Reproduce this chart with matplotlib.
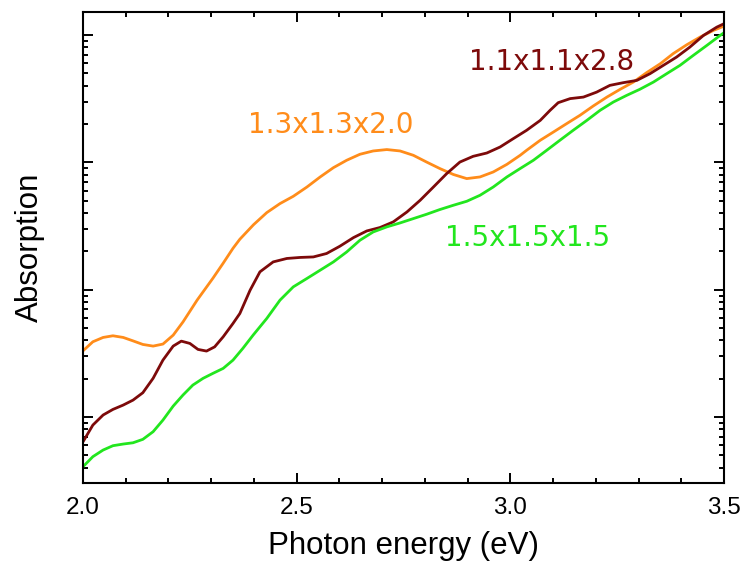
import numpy as np
import matplotlib
matplotlib.use("Agg")
import matplotlib.pyplot as plt
from matplotlib.ticker import MultipleLocator, LogLocator, NullFormatter, FormatStrFormatter

# Photon energy (eV) and log10(absorption)
E_o = [2.000, 2.023, 2.047, 2.070, 2.094, 2.117, 2.140, 2.164, 2.187, 2.211, 2.234, 2.267,
       2.304, 2.328, 2.351, 2.367, 2.399, 2.430, 2.461, 2.492, 2.524, 2.555, 2.586, 2.617,
       2.648, 2.679, 2.711, 2.742, 2.773, 2.804, 2.835, 2.867, 2.898, 2.929, 2.960, 2.992,
       3.023, 3.038, 3.070, 3.101, 3.132, 3.163, 3.194, 3.226, 3.257, 3.288, 3.319, 3.351,
       3.381, 3.413, 3.444, 3.475, 3.500]
L_o = [0.520, 0.591, 0.625, 0.638, 0.625, 0.598, 0.570, 0.557, 0.573, 0.643, 0.747, 0.918,
       1.090, 1.208, 1.325, 1.396, 1.510, 1.605, 1.676, 1.733, 1.806, 1.885, 1.958, 2.016,
       2.063, 2.089, 2.100, 2.089, 2.055, 2.002, 1.951, 1.904, 1.872, 1.885, 1.924, 1.984,
       2.055, 2.094, 2.173, 2.238, 2.304, 2.369, 2.442, 2.512, 2.573, 2.630, 2.704, 2.774,
       2.853, 2.923, 2.983, 3.035, 3.069]

E_r = [2.000, 2.023, 2.047, 2.070, 2.094, 2.117, 2.140, 2.164, 2.187, 2.211, 2.230, 2.250,
       2.269, 2.289, 2.308, 2.328, 2.351, 2.367, 2.391, 2.414, 2.445, 2.477, 2.508, 2.539,
       2.570, 2.601, 2.633, 2.664, 2.695, 2.726, 2.758, 2.789, 2.820, 2.851, 2.882, 2.913,
       2.945, 2.976, 3.007, 3.038, 3.070, 3.093, 3.112, 3.140, 3.171, 3.202, 3.233, 3.264,
       3.296, 3.327, 3.358, 3.389, 3.420, 3.452, 3.483, 3.500]
L_r = [-0.194, -0.063, 0.016, 0.060, 0.094, 0.133, 0.191, 0.304, 0.447, 0.557, 0.596, 0.578,
       0.531, 0.518, 0.551, 0.630, 0.735, 0.813, 0.996, 1.140, 1.218, 1.245, 1.253, 1.257,
       1.284, 1.341, 1.409, 1.461, 1.488, 1.532, 1.610, 1.702, 1.806, 1.911, 2.002, 2.047,
       2.073, 2.120, 2.186, 2.251, 2.329, 2.408, 2.468, 2.500, 2.512, 2.551, 2.604, 2.625,
       2.643, 2.696, 2.761, 2.826, 2.904, 2.996, 3.061, 3.088]

E_g = [2.000, 2.023, 2.047, 2.070, 2.094, 2.117, 2.140, 2.164, 2.187, 2.211, 2.234, 2.257,
       2.281, 2.304, 2.328, 2.351, 2.374, 2.398, 2.430, 2.461, 2.492, 2.524, 2.555, 2.586,
       2.617, 2.648, 2.679, 2.711, 2.742, 2.773, 2.804, 2.835, 2.867, 2.898, 2.929, 2.960,
       2.992, 3.023, 3.054, 3.085, 3.116, 3.147, 3.179, 3.210, 3.241, 3.272, 3.303, 3.335,
       3.366, 3.397, 3.428, 3.460, 3.491, 3.500]
L_g = [-0.390, -0.311, -0.259, -0.225, -0.212, -0.202, -0.175, -0.115, -0.024, 0.086, 0.173,
       0.251, 0.304, 0.343, 0.382, 0.447, 0.539, 0.643, 0.774, 0.918, 1.022, 1.088, 1.153,
       1.218, 1.296, 1.388, 1.453, 1.493, 1.524, 1.558, 1.592, 1.629, 1.663, 1.694, 1.741,
       1.806, 1.885, 1.951, 2.016, 2.094, 2.173, 2.251, 2.329, 2.408, 2.473, 2.525, 2.573,
       2.630, 2.696, 2.761, 2.839, 2.918, 2.996, 3.017]

labels = ["1.3x1.3x2.0", "1.1x1.1x2.8", "1.5x1.5x1.5"]
label_E = [2.580, 3.096, 3.040]
label_L = [2.290, 2.784, 1.404]
colors = ["#ff8c1a", "#7d0a0a", "#22e61e"]

fig = plt.figure(figsize=(7.44, 5.66), dpi=100)
ax = fig.add_axes([0.1116, 0.1466, 0.8615, 0.8322])

for E, L, c in [(E_o, L_o, colors[0]), (E_r, L_r, colors[1]), (E_g, L_g, colors[2])]:
    ax.plot(E, 10 ** np.array(L), color=c, lw=2.0, solid_joinstyle="round",
            solid_capstyle="round")

ax.set_yscale("log")
ax.set_xlim(2.0, 3.5)
ax.set_ylim(10 ** -0.518, 10 ** 3.18)

ax.xaxis.set_major_locator(MultipleLocator(0.5))
ax.xaxis.set_minor_locator(MultipleLocator(0.1))
ax.xaxis.set_major_formatter(FormatStrFormatter("%.1f"))
ax.yaxis.set_major_locator(LogLocator(base=10, numticks=10))
ax.yaxis.set_minor_locator(LogLocator(base=10, subs=np.arange(2, 10), numticks=20))
ax.yaxis.set_major_formatter(NullFormatter())
ax.yaxis.set_minor_formatter(NullFormatter())

ax.tick_params(which="both", direction="in", top=True, right=True, width=1.4)
ax.tick_params(which="major", length=7.5)
ax.tick_params(which="minor", length=3.8)
ax.tick_params(axis="x", labelsize=17.5, pad=10)
for lab in ax.get_xticklabels():
    lab.set_fontfamily("Liberation Sans")
for s in ax.spines.values():
    s.set_linewidth(1.5)

ax.set_xlabel("Photon energy (eV)", fontsize=22.5, family="Liberation Sans", labelpad=9)
ax.set_ylabel("Absorption", fontsize=22.5, family="Liberation Sans", labelpad=24)

for t, e, l, c in zip(labels, label_E, label_L, colors):
    ax.text(e, 10 ** l, t, color=c, fontsize=20, ha="center", va="center",
            family="DejaVu Sans")

fig.savefig("out.png", dpi=100)
